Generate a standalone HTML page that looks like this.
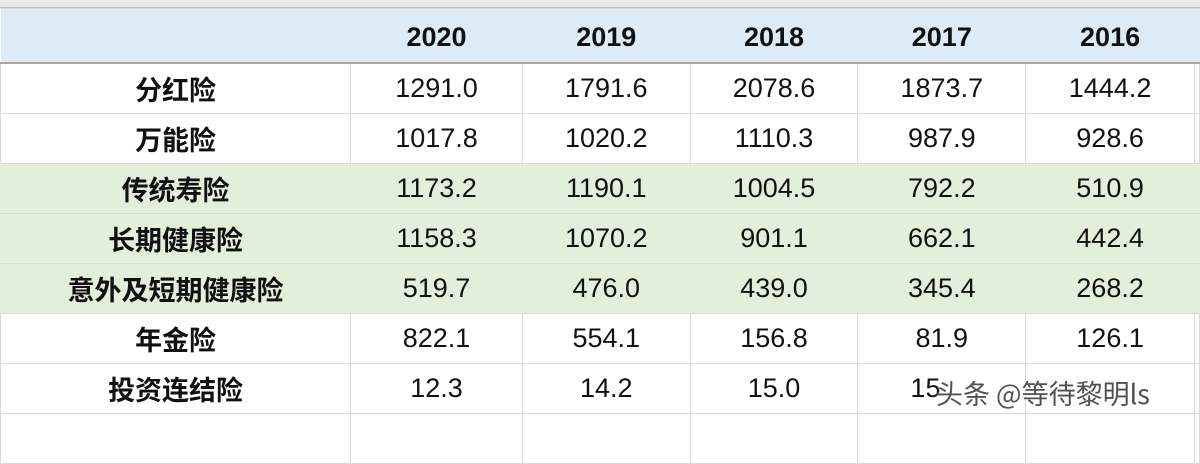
<!DOCTYPE html>
<html><head><meta charset="utf-8"><style>
body{margin:0;width:1200px;height:422px;overflow:hidden;background:#fff;font-family:"Liberation Sans","Noto Sans CJK SC",sans-serif;position:relative}
#strip{position:absolute;left:0;top:0;width:1200px;height:7px;background:#e8e8e8;border-bottom:1px solid #bbb}
table{position:absolute;left:0;top:8px;border-collapse:collapse;table-layout:fixed}
td{border:1px solid #d9d9d9;text-align:center;padding:0;height:49px;font-size:27px;color:#111}
tr.h td{background:#ddebf7;height:50px;font-weight:bold;font-size:27px;border-bottom:2px solid #a6a6a6;border-left:none;border-right:none;padding-top:3px}
tr.g td{background:#e2efda;border-left-color:#e2efda;border-right-color:#e2efda}
td.l{font-weight:bold;font-size:27px;font-family:"Noto Sans CJK SC",sans-serif}
#wm{position:absolute;left:936px;top:373px;font-size:27px;color:#333;font-family:"Noto Sans CJK SC",sans-serif;text-shadow:0 0 2px #fff,0 0 2px #fff;opacity:.85}
</style></head><body>
<div id="strip"></div>
<table>
<colgroup><col style="width:351px"><col style="width:172px"><col style="width:168px"><col style="width:168px"><col style="width:168px"><col style="width:169px"><col style="width:5px"></colgroup>
<tr class="h"><td></td><td>2020</td><td>2019</td><td>2018</td><td>2017</td><td>2016</td><td></td></tr>
<tr><td class="l">分红险</td><td>1291.0</td><td>1791.6</td><td>2078.6</td><td>1873.7</td><td>1444.2</td><td></td></tr>
<tr><td class="l">万能险</td><td>1017.8</td><td>1020.2</td><td>1110.3</td><td>987.9</td><td>928.6</td><td></td></tr>
<tr class="g"><td class="l">传统寿险</td><td>1173.2</td><td>1190.1</td><td>1004.5</td><td>792.2</td><td>510.9</td><td></td></tr>
<tr class="g"><td class="l">长期健康险</td><td>1158.3</td><td>1070.2</td><td>901.1</td><td>662.1</td><td>442.4</td><td></td></tr>
<tr class="g"><td class="l">意外及短期健康险</td><td>519.7</td><td>476.0</td><td>439.0</td><td>345.4</td><td>268.2</td><td></td></tr>
<tr><td class="l">年金险</td><td>822.1</td><td>554.1</td><td>156.8</td><td>81.9</td><td>126.1</td><td></td></tr>
<tr><td class="l">投资连结险</td><td>12.3</td><td>14.2</td><td>15.0</td><td style="text-align:left;padding-left:52px">15</td><td></td><td></td></tr>
<tr><td></td><td></td><td></td><td></td><td></td><td></td><td></td></tr>
</table>
<div id="wm">头条 @等待黎明ls</div>
</body></html>
